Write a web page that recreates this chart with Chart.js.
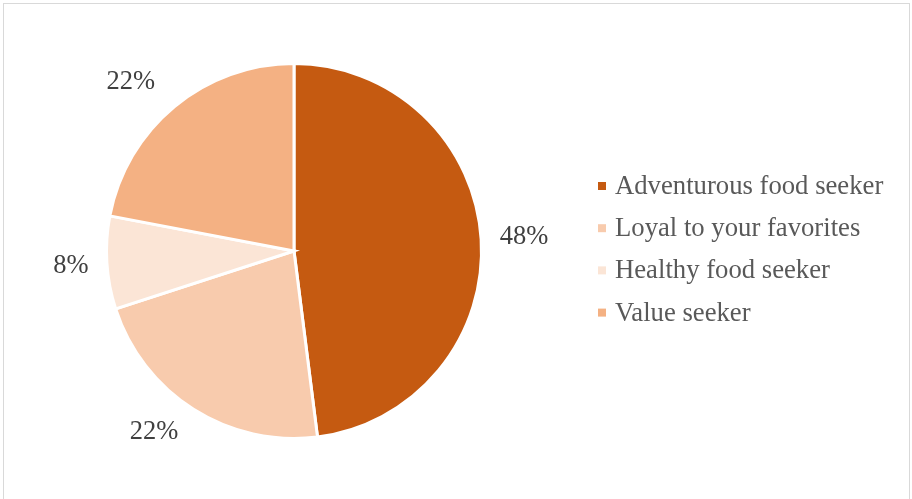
<!DOCTYPE html>
<html>
<head>
<meta charset="utf-8">
<script src="https://cdn.jsdelivr.net/npm/chart.js@4"></script>
<style>
  html, body { margin: 0; padding: 0; background: #ffffff; }
  #wrap { position: relative; width: 912px; height: 499px; overflow: hidden; }
  canvas { display: block; }
</style>
</head>
<body>
<div id="wrap"><canvas id="chart" width="912" height="499"></canvas></div>
<script>
// Share of diners by food personality
const segments = ['Adventurous food seeker', 'Loyal to your favorites', 'Healthy food seeker', 'Value seeker'];
const shares = [48, 22, 8, 22];
const sliceColors = ['#C55A11', '#F8CBAD', '#FBE5D6', '#F4B183'];

const serif = '"Liberation Serif", "Times New Roman", Times, serif';

// Light frame around the chart area
const framePlugin = {
  id: 'frame',
  beforeDraw(chart) {
    const ctx = chart.ctx;
    ctx.save();
    ctx.fillStyle = '#ffffff';
    ctx.fillRect(0, 0, chart.width, chart.height);
    ctx.strokeStyle = '#D9D9D9';
    ctx.lineWidth = 1;
    ctx.strokeRect(3.5, 3.5, chart.width - 6, chart.height + 20);
    ctx.restore();
  }
};

// Percentage labels placed just outside each slice
const outsideLabels = {
  id: 'outsideLabels',
  afterDatasetsDraw(chart, args, opts) {
    const ctx = chart.ctx;
    const meta = chart.getDatasetMeta(0);
    const values = chart.data.datasets[0].data;
    const total = values.reduce((a, b) => a + b, 0);
    ctx.save();
    ctx.font = opts.font;
    ctx.fillStyle = opts.color;
    ctx.textAlign = 'center';
    ctx.textBaseline = 'middle';
    meta.data.forEach((arc, i) => {
      const p = arc.getProps(['x', 'y', 'startAngle', 'endAngle', 'outerRadius'], true);
      const mid = (p.startAngle + p.endAngle) / 2;
      const r = p.outerRadius + opts.distance;
      const nudge = opts.nudge[i] || { x: 0, y: 0 };
      const x = p.x + Math.cos(mid) * r + nudge.x;
      const y = p.y + Math.sin(mid) * r + nudge.y;
      ctx.fillText(Math.round(values[i] / total * 100) + '%', x, y);
    });
    ctx.restore();
  }
};

// Legend with small square markers, drawn to the right of the pie
const sideLegend = {
  id: 'sideLegend',
  afterDraw(chart, args, opts) {
    const ctx = chart.ctx;
    const labels = chart.data.labels;
    const colors = chart.data.datasets[0].backgroundColor;
    ctx.save();
    ctx.font = opts.font;
    ctx.textBaseline = 'middle';
    ctx.textAlign = 'left';
    labels.forEach((label, i) => {
      const cy = opts.top + i * opts.rowGap;
      ctx.fillStyle = colors[i];
      ctx.fillRect(opts.left, cy - opts.box / 2, opts.box, opts.box);
      ctx.fillStyle = opts.color;
      ctx.fillText(label, opts.left + opts.box + opts.textGap, cy + 1);
    });
    ctx.restore();
  }
};

new Chart(document.getElementById('chart'), {
  type: 'pie',
  data: {
    labels: segments,
    datasets: [{
      data: shares,
      backgroundColor: sliceColors,
      borderColor: '#ffffff',
      borderWidth: 3,
      borderJoinStyle: 'miter'
    }]
  },
  options: {
    responsive: false,
    animation: false,
    events: [],
    layout: { padding: { left: 105, right: 429, top: 62, bottom: 59 } },
    plugins: {
      legend: { display: false },
      tooltip: { enabled: false },
      outsideLabels: {
        font: '26.5px ' + serif,
        color: '#404040',
        distance: 42,
        nudge: [{ x: 1, y: 0 }, { x: -17, y: -13 }, { x: 6, y: 1 }, { x: -17, y: 8 }]
      },
      sideLegend: {
        font: '26.7px ' + serif,
        color: '#595959',
        left: 598,
        top: 186,
        rowGap: 42.2,
        box: 8,
        textGap: 9
      }
    }
  },
  plugins: [framePlugin, outsideLabels, sideLegend]
});
</script>
</body>
</html>
